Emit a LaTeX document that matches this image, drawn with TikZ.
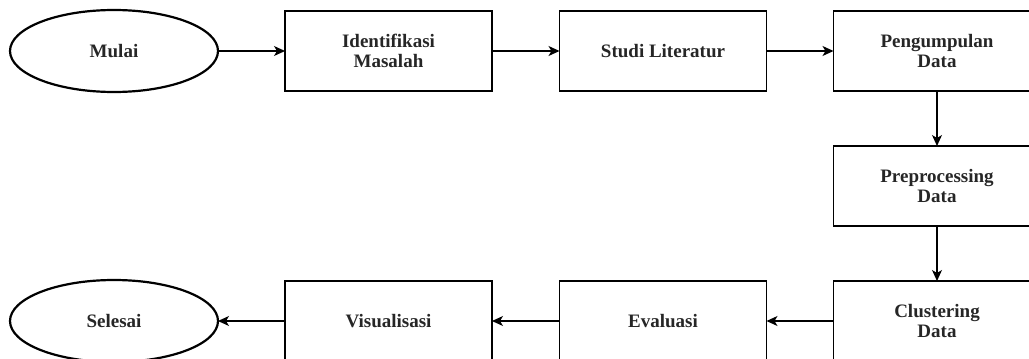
\documentclass[tikz,border=0pt]{standalone}
\usepackage{fontspec}
\setmainfont{Liberation Serif}
\usetikzlibrary{shapes.geometric,arrows.meta}
\begin{document}
\begin{tikzpicture}[x=1pt,y=-1pt,
  lbl/.style={font=\fontsize{19}{20.5}\selectfont\bfseries, text=black!85},
  proc/.style={lbl,draw,line width=1.4pt,minimum width=207pt,minimum height=80pt,inner sep=0pt,outer sep=0pt,align=center},
  term/.style={lbl,draw,ellipse,line width=2.2pt,minimum width=208pt,minimum height=82pt,inner sep=0pt,outer sep=0pt},
  arr/.style={-{Stealth[length=11pt,width=10pt,inset=3pt]},line width=1.2pt}]
\useasboundingbox (0,0) rectangle (1029,359);
\node[term] (mulai) at (114,51) {Mulai};
\node[proc] (ident) at (388.5,51) {Identifikasi\\Masalah};
\node[proc] (studi) at (663,51) {Studi Literatur};
\node[proc] (kumpul) at (937,51) {Pengumpulan\\Data};
\node[proc] (prep) at (937,186) {Preprocessing\\Data};
\node[proc] (clust) at (937,321) {Clustering\\Data};
\node[proc] (eval) at (663,321) {Evaluasi};
\node[proc] (vis) at (388.5,321) {Visualisasi};
\node[term] (selesai) at (114,321) {Selesai};
\draw[arr] (mulai) -- (ident);
\draw[arr] (ident) -- (studi);
\draw[arr] (studi) -- (kumpul);
\draw[arr] (kumpul) -- (prep);
\draw[arr] (prep) -- (clust);
\draw[arr] (clust) -- (eval);
\draw[arr] (eval) -- (vis);
\draw[arr] (vis) -- (selesai);
\end{tikzpicture}
\end{document}
